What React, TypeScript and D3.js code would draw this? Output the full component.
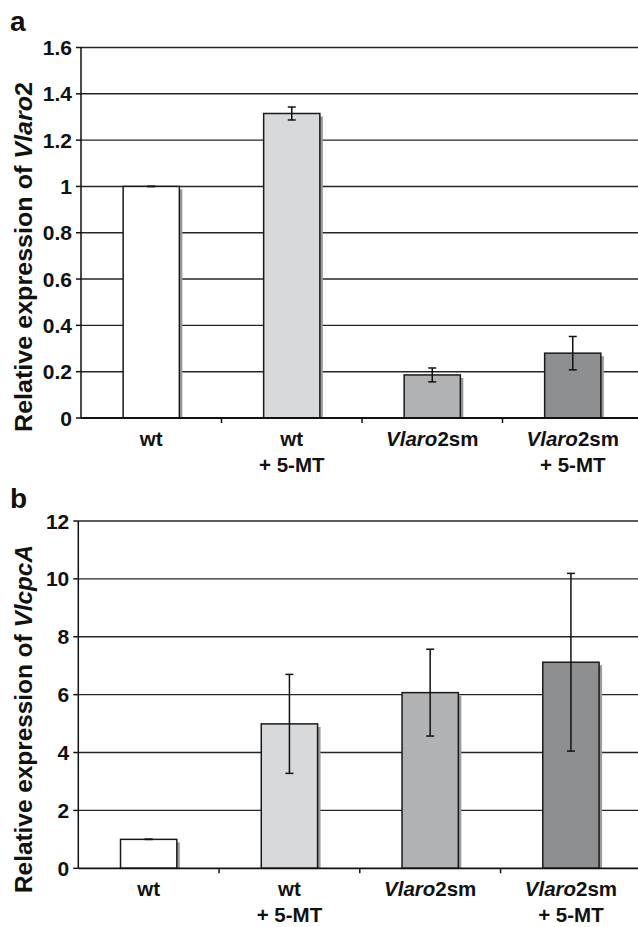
import React, { useEffect, useRef } from 'react';
import * as d3 from 'd3';

// categories (line 1 / line 2 of the x labels)
const catLine1 = ['wt', 'wt', 'Vlaro2sm', 'Vlaro2sm'];
const catLine2 = ['', '+ 5-MT', '', '+ 5-MT'];
const barColors = ['#ffffff', '#d8d9da', '#b1b2b4', '#8e8f90'];

// panel a: Vlaro2
const aroValues = [1.0, 1.315, 0.186, 0.28];
const aroErrors = [0, 0.028, 0.03, 0.072];
const aroTicks = [0, 0.2, 0.4, 0.6, 0.8, 1, 1.2, 1.4, 1.6];

// panel b: VlcpcA
const cpcValues = [1.0, 4.99, 6.07, 7.12];
const cpcErrors = [0, 1.71, 1.5, 3.07];
const cpcTicks = [0, 2, 4, 6, 8, 10, 12];

const FONT = '"Liberation Sans", Arial, Helvetica, sans-serif';

// split "Vlaro2sm" style labels so the gene part is italic
const addRich = (sel, str, italicPart) => {
    const i = str.indexOf(italicPart);
    if (i < 0 || !italicPart) {
        sel.append('tspan').text(str);
        return;
    }
    if (i > 0) sel.append('tspan').text(str.slice(0, i));
    sel.append('tspan').attr('font-style', 'italic').text(italicPart);
    if (i + italicPart.length < str.length) sel.append('tspan').text(str.slice(i + italicPart.length));
};

const drawPanel = (svg, opts) => {
    const { values, errors, ticks, top, bottom, left, right, letter, letterY, titlePlain, titleItalic, titleTail, titleY, titleLen } = opts;

    const x = d3.scaleBand()
        .domain(catLine1.map((d, i) => i))
        .range([left, right])
        .paddingInner(0.6)
        .paddingOuter(0.3);

    const y = d3.scaleLinear()
        .domain([0, ticks[ticks.length - 1]])
        .range([bottom, top]);

    const g = svg.append('g').attr('font-family', FONT).attr('font-weight', 'bold');

    // gridlines
    g.selectAll('.grid')
        .data(ticks.filter(t => t > 0))
        .enter()
        .append('line')
        .attr('x1', left)
        .attr('x2', 638)
        .attr('y1', d => y(d))
        .attr('y2', d => y(d))
        .attr('stroke', '#262626')
        .attr('stroke-width', 1.4);

    // bar shadows
    g.selectAll('.shadow')
        .data(values)
        .enter()
        .append('rect')
        .attr('x', (d, i) => x(i) + 3)
        .attr('y', d => y(d) + 3)
        .attr('width', x.bandwidth())
        .attr('height', d => bottom - y(d) - 3)
        .attr('fill', '#9a9a9a');

    // bars
    g.selectAll('.bar')
        .data(values)
        .enter()
        .append('rect')
        .attr('x', (d, i) => x(i))
        .attr('y', d => y(d))
        .attr('width', x.bandwidth())
        .attr('height', d => bottom - y(d))
        .attr('fill', (d, i) => barColors[i])
        .attr('stroke', '#1a1a1a')
        .attr('stroke-width', 1.5);

    // error bars
    const cx = i => x(i) + x.bandwidth() / 2;
    values.forEach((v, i) => {
        const e = errors[i];
        const eg = g.append('g').attr('stroke', '#111').attr('stroke-width', 1.5);
        eg.append('line').attr('x1', cx(i)).attr('x2', cx(i)).attr('y1', y(v - e)).attr('y2', y(v + e));
        eg.append('line').attr('x1', cx(i) - 4).attr('x2', cx(i) + 4).attr('y1', y(v + e)).attr('y2', y(v + e));
        eg.append('line').attr('x1', cx(i) - 4).attr('x2', cx(i) + 4).attr('y1', y(v - e)).attr('y2', y(v - e));
    });

    // y axis
    g.append('line')
        .attr('x1', left).attr('x2', left)
        .attr('y1', top).attr('y2', bottom)
        .attr('stroke', '#111').attr('stroke-width', 1.5);
    g.selectAll('.ytick')
        .data(ticks)
        .enter()
        .append('line')
        .attr('x1', left - 5).attr('x2', left)
        .attr('y1', d => y(d)).attr('y2', d => y(d))
        .attr('stroke', '#111').attr('stroke-width', 1.5);
    g.selectAll('.ylab')
        .data(ticks)
        .enter()
        .append('text')
        .attr('x', left - 9)
        .attr('y', d => y(d))
        .attr('dy', '0.36em')
        .attr('text-anchor', 'end')
        .attr('font-size', 21)
        .attr('fill', '#111')
        .text(d => String(+d.toFixed(1)));

    // x axis
    g.append('line')
        .attr('x1', left).attr('x2', 638)
        .attr('y1', bottom).attr('y2', bottom)
        .attr('stroke', '#111').attr('stroke-width', 1.8);
    g.selectAll('.xtick')
        .data([1, 2, 3])
        .enter()
        .append('line')
        .attr('x1', i => x(i) - x.step() * x.paddingInner() / 2)
        .attr('x2', i => x(i) - x.step() * x.paddingInner() / 2)
        .attr('y1', bottom).attr('y2', bottom + 5)
        .attr('stroke', '#111').attr('stroke-width', 1.5);

    catLine1.forEach((lab, i) => {
        const t1 = g.append('text')
            .attr('x', cx(i))
            .attr('y', bottom + 28)
            .attr('text-anchor', 'middle')
            .attr('font-size', 20.5)
            .attr('fill', '#111');
        addRich(t1, lab, 'Vlaro');
        if (catLine2[i]) {
            g.append('text')
                .attr('x', cx(i))
                .attr('y', bottom + 54)
                .attr('text-anchor', 'middle')
                .attr('font-size', 20.5)
                .attr('fill', '#111')
                .text(catLine2[i]);
        }
    });

    // y title
    const title = g.append('text')
        .attr('transform', `translate(32,${titleY}) rotate(-90)`)
        .attr('text-anchor', 'middle')
        .attr('font-size', 23)
        .attr('textLength', titleLen)
        .attr('lengthAdjust', 'spacingAndGlyphs')
        .attr('fill', '#111');
    title.append('tspan').text(titlePlain);
    title.append('tspan').attr('font-style', 'italic').text(titleItalic);
    if (titleTail) title.append('tspan').text(titleTail);

    // panel letter
    g.append('text')
        .attr('x', 10)
        .attr('y', letterY)
        .attr('font-size', 28)
        .attr('fill', '#111')
        .text(letter);
};

const App = () => {
    const chartRef = useRef();

    useEffect(() => {
        const svg = d3.select(chartRef.current);
        svg.selectAll('*').remove();

        drawPanel(svg, {
            values: aroValues, errors: aroErrors, ticks: aroTicks,
            top: 47.5, bottom: 418, left: 81, right: 643,
            letter: 'a', letterY: 31,
            titlePlain: 'Relative expression of ', titleItalic: 'Vlaro', titleTail: '2', titleY: 257, titleLen: 350
        });

        drawPanel(svg, {
            values: cpcValues, errors: cpcErrors, ticks: cpcTicks,
            top: 521, bottom: 868.3, left: 78.3, right: 641.3,
            letter: 'b', letterY: 508,
            titlePlain: 'Relative expression of ', titleItalic: 'VlcpcA', titleTail: '', titleY: 719, titleLen: 348
        });
    }, []);

    return (
        <svg ref={chartRef} width={638} height={927}
            style={{ position: 'absolute', left: 0, top: 0, background: '#fff' }} />
    );
};

export default App;
